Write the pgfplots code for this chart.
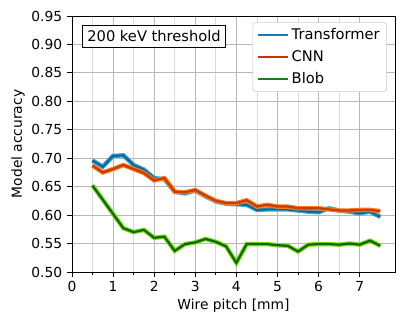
\documentclass[border=0pt]{standalone}
\usepackage{pgfplots}
\pgfplotsset{compat=1.18}
\usepackage{fontspec}
\setmainfont{DejaVu Sans}

\definecolor{trin}{HTML}{0B6A96}
\definecolor{trout}{HTML}{3AA6D8}
\definecolor{cnnin}{HTML}{C83C00}
\definecolor{cnnout}{HTML}{FF7B22}
\definecolor{blin}{HTML}{0E6A00}
\definecolor{blout}{HTML}{7DDA1C}
\definecolor{legtr}{HTML}{1F77B4}
\definecolor{legcnn}{HTML}{CC3300}
\definecolor{legbl}{HTML}{1E7A1E}

\pgfplotstableread{
x     tr     cnn    blob
0.50  0.696  0.687  0.652
0.75  0.685  0.675  0.627
1.00  0.704  0.681  0.602
1.25  0.705  0.688  0.577
1.50  0.688  0.681  0.570
1.75  0.680  0.674  0.574
2.00  0.665  0.661  0.560
2.25  0.663  0.665  0.562
2.50  0.641  0.641  0.537
2.75  0.638  0.640  0.549
3.00  0.643  0.644  0.552
3.25  0.633  0.634  0.558
3.50  0.624  0.625  0.553
3.75  0.620  0.621  0.545
4.00  0.619  0.621  0.516
4.25  0.618  0.626  0.549
4.50  0.609  0.615  0.549
4.75  0.610  0.618  0.549
5.00  0.610  0.615  0.547
5.25  0.610  0.615  0.546
5.50  0.608  0.612  0.536
5.75  0.606  0.612  0.548
6.00  0.605  0.612  0.549
6.25  0.612  0.610  0.549
6.50  0.608  0.608  0.548
6.75  0.606  0.608  0.550
7.00  0.603  0.609  0.548
7.25  0.606  0.609  0.555
7.50  0.597  0.607  0.546
}\acc

\begin{document}
\begin{tikzpicture}
\begin{axis}[
    name=ax,
    scale only axis,
    width=232.6bp, height=184.3bp,
    xmin=0, xmax=7.86,
    ymin=0.5, ymax=0.95,
    xtick={0,1,...,7},
    minor x tick num=1,
    ytick={0.50,0.55,...,0.951},
    yticklabel={\pgfmathprintnumber[fixed,fixed zerofill,precision=2]{\tick}},
    /pgf/number format/assume math mode=true,
    tick align=outside,
    xtick pos=bottom, ytick pos=left,
    major tick length=3.5pt, minor tick length=2pt,
    grid=both,
    major grid style={draw=black!28, line width=0.6pt},
    minor grid style={draw=black!14, line width=0.6pt},
    tick style={black, line width=0.6pt},
    axis line style={line width=0.6pt},
    font=\fontsize{10}{12}\selectfont,
    xlabel={Wire pitch [mm]},
    ylabel={Model accuracy},
    xlabel style={yshift=2pt},
    ylabel style={yshift=-2pt},
    legend style={at={(0.975,0.975)}, anchor=north east, draw=black!20,
        rounded corners=2pt, font=\fontsize{10.6}{12}\selectfont,
        row sep=2.6pt, inner xsep=3pt, inner ysep=2pt},
    legend image code/.code={\draw[#1] (0bp,0bp) -- (21.6bp,0bp);},
    legend cell align=left,
]
\addplot[trout, line width=3.2pt, forget plot] table[x=x, y=tr] {\acc};
\addplot[trin, line width=1.6pt, forget plot] table[x=x, y=tr] {\acc};
\addplot[cnnout, line width=3.2pt, forget plot] table[x=x, y=cnn] {\acc};
\addplot[cnnin, line width=1.6pt, forget plot] table[x=x, y=cnn] {\acc};
\addplot[blout, line width=3.2pt, forget plot] table[x=x, y=blob] {\acc};
\addplot[blin, line width=1.6pt, forget plot] table[x=x, y=blob] {\acc};
\addlegendimage{legtr, line width=1.4pt}
\addlegendentry{Transformer}
\addlegendimage{legcnn, line width=1.4pt}
\addlegendentry{CNN}
\addlegendimage{legbl, line width=1.4pt}
\addlegendentry{Blob}
\node[draw=black, line width=0.8pt, fill=white, anchor=north west, inner xsep=3.5pt, inner ysep=3.8pt,
      font=\fontsize{10.6}{12}\selectfont] at (rel axis cs:0.031,0.965) {200 keV threshold};
\end{axis}
\path ([shift={(-51.8bp,-39.6bp)}]ax.south west) rectangle ([shift={(7.9bp,11.5bp)}]ax.north east);
\end{tikzpicture}
\end{document}
